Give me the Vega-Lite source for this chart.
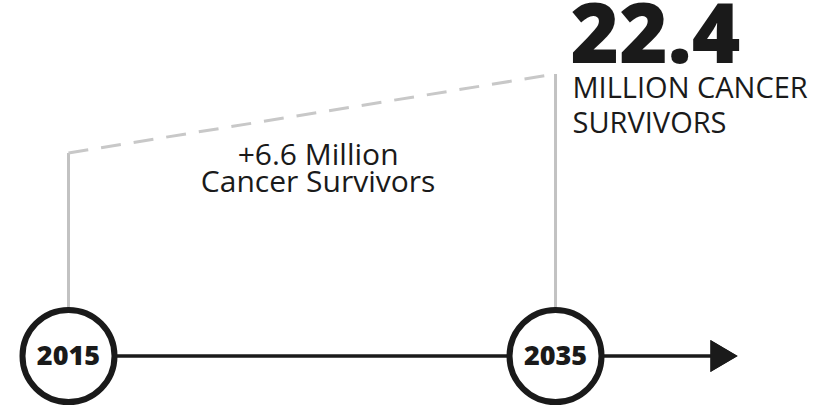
{
  "$schema": "https://vega.github.io/schema/vega-lite/v6.json",
  "width": 838,
  "height": 407,
  "autosize": "none",
  "padding": 0,
  "background": "white",
  "config": {"view": {"stroke": null}, "font": "Open Sans"},
  "datasets": {
    "points": [
      {"year": 2015, "survivors": 15.8, "label": "2015"},
      {"year": 2035, "survivors": 22.4, "label": "2035"}
    ]
  },
  "data": {"name": "points"},
  "encoding": {
    "x": {"field": "year", "type": "quantitative", "scale": {"domain": [2012.187, 2046.6], "nice": false, "zero": false}, "axis": null},
    "y": {"field": "survivors", "type": "quantitative", "scale": {"domain": [-5.42, 28.58], "nice": false, "zero": false}, "axis": null}
  },
  "layer": [
    {
      "mark": {"type": "rule", "color": "#c2c2c2", "strokeWidth": 3},
      "encoding": {"y": {"datum": -1.16}, "y2": {"field": "survivors"}}
    },
    {
      "mark": {"type": "line", "color": "#c8c8c8", "strokeWidth": 3, "strokeDash": [20, 13]},
      "encoding": {}
    },
    {
      "mark": {"type": "rule", "color": "#1a1a1a", "strokeWidth": 3},
      "encoding": {"x": {"datum": 2015}, "x2": {"datum": 2041.6}, "y": {"datum": -1.16}}
    },
    {
      "mark": {"type": "point", "shape": "M-0.85,-1L0.85,0L-0.85,1Z", "filled": true, "color": "#1a1a1a", "opacity": 1, "size": 1024, "strokeWidth": 0},
      "encoding": {"x": {"datum": 2041.92}, "y": {"datum": -1.16}}
    },
    {
      "mark": {"type": "point", "shape": "circle", "fill": "white", "fillOpacity": 1, "stroke": "#1a1a1a", "strokeWidth": 6, "opacity": 1, "size": 8464},
      "encoding": {"y": {"datum": -1.16}}
    },
    {
      "mark": {"type": "text", "fontWeight": 800, "fontSize": 27, "color": "#1a1a1a", "baseline": "middle", "align": "center", "dy": 1},
      "encoding": {"y": {"datum": -1.16}, "text": {"field": "label"}}
    },
    {
      "transform": [{"filter": "datum.year == 2035"}],
      "mark": {"type": "text", "fontWeight": 800, "fontSize": 83, "color": "#1a1a1a", "baseline": "alphabetic", "align": "left", "dx": 15, "dy": -11},
      "encoding": {"text": {"field": "survivors", "type": "quantitative", "format": ".1f"}}
    },
    {
      "transform": [{"filter": "datum.year == 2035"}],
      "mark": {"type": "text", "fontWeight": 400, "fontSize": 29, "color": "#1a1a1a", "baseline": "alphabetic", "align": "left", "dx": 17, "dy": 24, "lineHeight": 35, "text": ["MILLION CANCER", "SURVIVORS"]},
      "encoding": {}
    },
    {
      "transform": [{"filter": "datum.year == 2035"}],
      "mark": {"type": "text", "fontWeight": 400, "fontSize": 30, "color": "#1a1a1a", "baseline": "alphabetic", "align": "center", "lineHeight": 27, "text": ["+6.6 Million", "Cancer Survivors"]},
      "encoding": {"x": {"datum": 2025.25}, "y": {"datum": 14.8}}
    }
  ]
}
